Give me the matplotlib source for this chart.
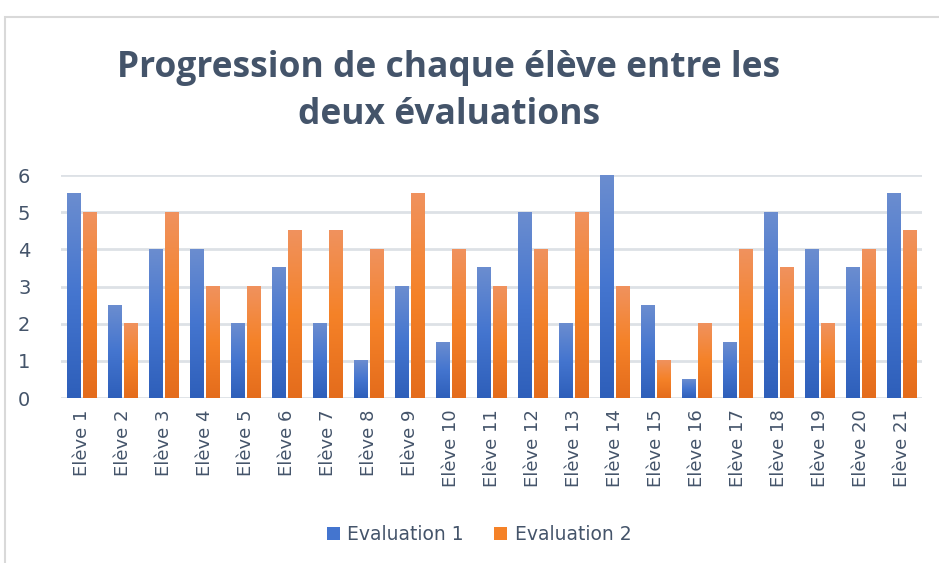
import numpy as np
import matplotlib
matplotlib.use('Agg')
import matplotlib.pyplot as plt
from matplotlib.colors import LinearSegmentedColormap
from matplotlib.patches import Rectangle, Patch

# Données
eleves = [f"Elève {i}" for i in range(1, 22)]
evaluation_1 = [5.5, 2.5, 4, 4, 2, 3.5, 2, 1, 3, 1.5, 3.5, 5, 2, 6, 2.5, 0.5, 1.5, 5, 4, 3.5, 5.5]
evaluation_2 = [5, 2, 5, 3, 3, 4.5, 4.5, 4, 5.5, 4, 3, 4, 5, 3, 1, 2, 4, 3.5, 2, 4, 4.5]
series_names = ["Evaluation 1", "Evaluation 2"]

# Dégradés façon Excel (bas -> haut)
blue_cmap = LinearSegmentedColormap.from_list("b", ["#2e5fba", "#4475cf", "#6b8dd0"])
orange_cmap = LinearSegmentedColormap.from_list("o", ["#e46c1c", "#f58228", "#f0925e"])
text_color = "#44546a"
grid_color = "#dde1e6"

fig = plt.figure(figsize=(9.39, 5.63), dpi=100)
ax = fig.add_axes([0.065, 0.293, 0.917, 0.396])

x = np.arange(len(eleves))
w = 0.34
off = 0.195


def gradient_bars(ax, xs, vals, cmap):
    grad = np.linspace(0, 1, 256).reshape(-1, 1)
    for xi, v in zip(xs, vals):
        ax.imshow(grad, cmap=cmap, origin='lower', aspect='auto',
                  interpolation='bilinear',
                  extent=(xi - w / 2, xi + w / 2, 0, v), zorder=3)


gradient_bars(ax, x - off, evaluation_1, blue_cmap)
gradient_bars(ax, x + off, evaluation_2, orange_cmap)

ax.set_xlim(-0.5, len(eleves) - 0.5)
ax.set_ylim(0, 6)
ax.set_yticks(range(7))
ax.set_xticks(x)
ax.set_xticklabels(eleves, rotation=90)
ax.tick_params(length=0, labelsize=13, labelcolor=text_color, pad=8)
ax.tick_params(axis='y', pad=22)
for lab in ax.get_yticklabels():
    lab.set_fontsize(14)
for yv in range(7):
    ax.axhline(yv, color=grid_color, linewidth=2, zorder=0)
for s in ax.spines.values():
    s.set_visible(False)

# Titre
fig.text(0.478, 0.838, "Progression de chaque élève entre les\ndeux évaluations",
         ha='center', va='center', fontsize=25.5, fontweight='bold', color=text_color,
         family='Open Sans', linespacing=1.4)

# Légende
handles = [Patch(facecolor="#4475cf", label=series_names[0]),
           Patch(facecolor="#f58228", label=series_names[1])]
fig.legend(handles=handles, loc='center', bbox_to_anchor=(0.51, 0.05), ncol=2,
           frameon=False, fontsize=13.5, labelcolor=text_color,
           handlelength=0.7, handleheight=0.7, handletextpad=0.4, columnspacing=1.6)

# Cadre du graphique
fig.patches.append(Rectangle((5 / 939, -0.1), 1.0, 1 - 17 / 563 + 0.1,
                             transform=fig.transFigure, fill=False,
                             edgecolor="#d9d9d9", linewidth=1.5))

fig.savefig("out.png", dpi=100)
